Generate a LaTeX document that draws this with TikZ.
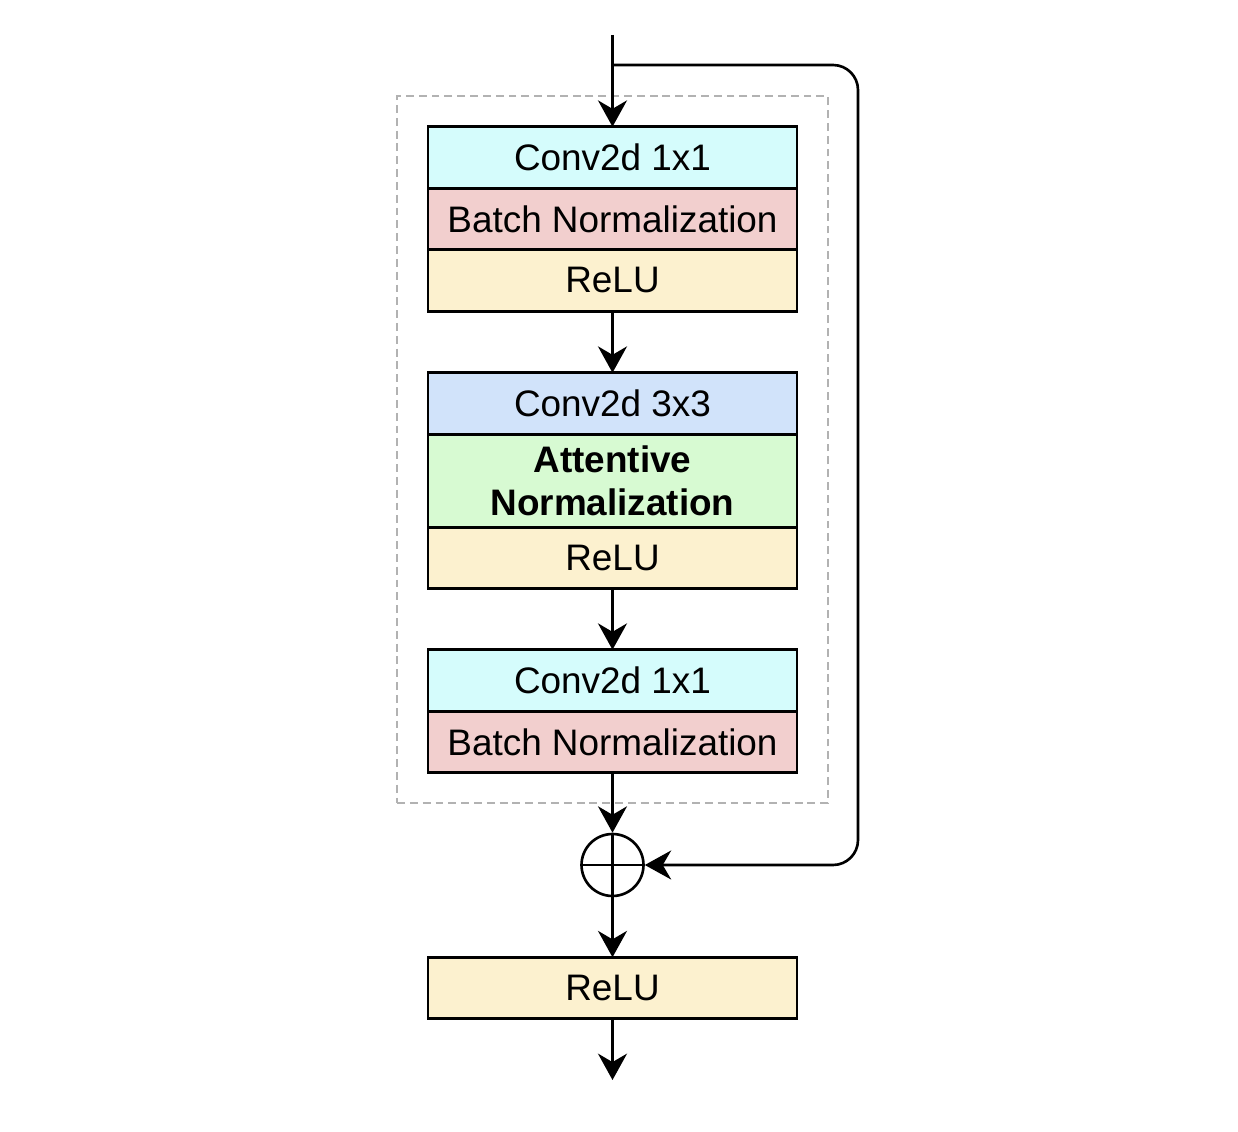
\documentclass[tikz,border=0pt]{standalone}
\usepackage{fontspec}
\setmainfont{Liberation Sans}
\usetikzlibrary{positioning,arrows.meta}
\definecolor{convone}{HTML}{D5FCFC}
\definecolor{convthree}{HTML}{D1E3FA}
\definecolor{batchnorm}{HTML}{F2CFCE}
\definecolor{attnorm}{HTML}{D7FAD2}
\definecolor{relu}{HTML}{FCF1CF}
\begin{document}
\begin{tikzpicture}[x=0.02cm,y=-0.02cm]
	\tikzstyle{Layer} = [rectangle, minimum width=7.38cm, minimum height=1.23cm, text centered, draw=black, line width=1.6pt, outer sep=0pt, inner sep=0pt, font=\fontsize{21}{24.5}\selectfont]
	\tikzstyle{arrow} = [line width=1.5pt, -{Stealth[length=15pt, width=16.5pt, inset=4.8pt]}]
	\useasboundingbox (0,0) rectangle (1238,1132);
	
	\node (unit) [draw=black!30, dash pattern=on 4.5pt off 2.8pt, line width=1.2pt, minimum width=8.62cm, minimum height=14.14cm] at (612.5,449.5) {};
	
	\node (c1) [Layer, fill=convone] at (612.5,157.5) {Conv2d 1x1};
	\node (bn1) [Layer, fill=batchnorm, below=0pt of c1] {Batch Normalization};
	\node (r1) [Layer, fill=relu, below=0pt of bn1] {ReLU};
	
	\node (c2) [Layer, fill=convthree] at (612.5,403.5) {Conv2d 3x3};
	\node (an) [Layer, fill=attnorm, minimum height=1.86cm, align=center, font=\fontsize{21}{24.5}\selectfont\bfseries, below=0pt of c2] {Attentive\\Normalization};
	\node (r2) [Layer, fill=relu, below=0pt of an] {ReLU};
	
	\node (c3) [Layer, fill=convone] at (612.5,680.5) {Conv2d 1x1};
	\node (bn3) [Layer, fill=batchnorm, below=0pt of c3] {Batch Normalization};
	
	\node (add) [circle, draw=black, line width=1.5pt, minimum size=1.24cm, inner sep=0pt] at (612.5,865) {};
	\draw [line width=1.5pt] (add.north) -- (add.south) (add.west) -- (add.east);
	
	\node (r3) [Layer, fill=relu] at (612.5,988) {ReLU};
	
	\coordinate (in) at (612.5,35);
	\coordinate (split) at (612.5,65);
	\coordinate (out) at (612.5,1080);
	
	\draw [arrow] (in) -- (c1.north);
	\draw [arrow] (r1.south) -- (c2.north);
	\draw [arrow] (r2.south) -- (c3.north);
	\draw [arrow] (bn3.south) -- (add.north);
	\draw [arrow] (add.south) -- (r3.north);
	\draw [arrow] (r3.south) -- (out);
	\draw [arrow, rounded corners=0.5cm] (split) -- (858,65) -- (858,865) -- (add.east);
\end{tikzpicture}
\end{document}
